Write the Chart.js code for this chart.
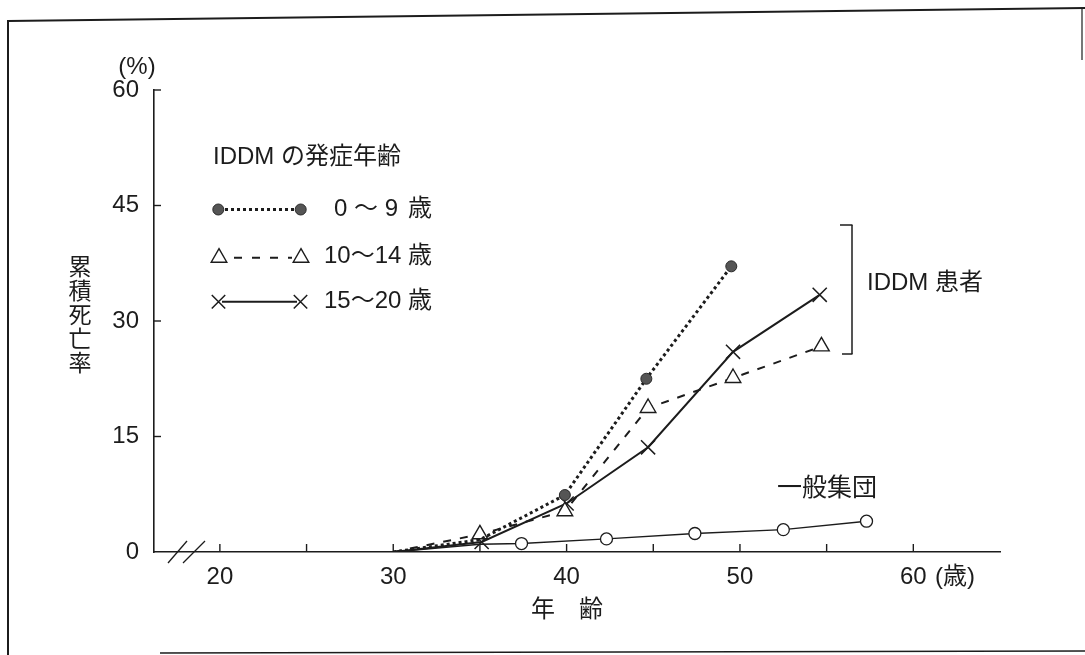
<!DOCTYPE html>
<html>
<head>
<meta charset="utf-8">
<script src="https://cdn.jsdelivr.net/npm/chart.js@4.4.1/dist/chart.umd.min.js"></script>
<style>
html,body{margin:0;padding:0;background:#fff;}
canvas{display:block;}
</style>
</head>
<body>
<canvas id="c" width="1085" height="655"></canvas>
<script>
// ---- data ----
const ages_0_9 = [30, 35, 39.9, 44.6, 49.5];
const rate_0_9 = [0, 1.6, 7.4, 22.5, 37.1];

const ages_10_14 = [30, 35, 39.9, 44.7, 49.6, 54.7];
const rate_10_14 = [0, 2.3, 5.3, 18.7, 22.6, 26.7];

const ages_15_20 = [30, 35.1, 40, 44.7, 49.6, 54.6];
const rate_15_20 = [0, 1.3, 6.3, 13.6, 26.0, 33.4];

const ages_general = [30, 35, 37.4, 42.3, 47.4, 52.5, 57.3];
const rate_general = [0, 1.0, 1.1, 1.7, 2.4, 2.9, 4.0];

const seriesNames = ['0 ～ 9', '10～14', '15～20'];
const ageUnit = '歳';
const legendTitle = 'IDDM の発症年齢';
const patientLabel = 'IDDM 患者';
const generalLabel = '一般集団';
const yTitleChars = ['累', '積', '死', '亡', '率'];
const yUnit = '(%)';
const xTitle = '年　齢';
const xUnit = '(歳)';

const xTickValues = [20, 25, 30, 35, 40, 45, 50, 55, 60];
const xTickLabels = ['20', '', '30', '', '40', '', '50', '', '60'];
const yTickValues = [0, 15, 30, 45, 60];
const yTickLabels = ['0', '15', '30', '45', '60'];

// ---- styling ----
const FAMILY = '"Liberation Sans","Noto Sans CJK JP",sans-serif';
const INK = '#1c1c1c';

function pts(xs, ys) { return xs.map((x, i) => ({ x: x, y: ys[i] })); }

function drawMarker(ctx, style, x, y, r, fill, stroke, lw) {
  ctx.save();
  ctx.lineWidth = lw;
  ctx.strokeStyle = stroke;
  ctx.fillStyle = fill;
  ctx.setLineDash([]);
  ctx.beginPath();
  if (style === 'circle') {
    ctx.arc(x, y, r, 0, Math.PI * 2);
    ctx.fill(); ctx.stroke();
  } else if (style === 'triangle') {
    ctx.moveTo(x, y - r);
    ctx.lineTo(x + r * Math.sin(Math.PI * 2 / 3), y + r * 0.5);
    ctx.lineTo(x - r * Math.sin(Math.PI * 2 / 3), y + r * 0.5);
    ctx.closePath();
    ctx.fill(); ctx.stroke();
  } else if (style === 'crossRot') {
    const d = r * Math.cos(Math.PI / 4);
    ctx.moveTo(x - d, y - d); ctx.lineTo(x + d, y + d);
    ctx.moveTo(x - d, y + d); ctx.lineTo(x + d, y - d);
    ctx.stroke();
  }
  ctx.restore();
}

const deco = {
  id: 'deco',
  beforeDraw(chart) {
    const c = chart.ctx;
    c.save(); c.fillStyle = '#fff'; c.fillRect(0, 0, chart.width, chart.height); c.restore();
  },
  afterDraw(chart) {
    const ctx = chart.ctx, xs = chart.scales.x, ys = chart.scales.y, a = chart.chartArea;
    ctx.save();
    ctx.strokeStyle = INK; ctx.fillStyle = INK;
    const line = (x1, y1, x2, y2) => { ctx.beginPath(); ctx.moveTo(x1, y1); ctx.lineTo(x2, y2); ctx.stroke(); };
    const text = (s, x, y, size, align) => {
      ctx.font = size + 'px ' + FAMILY;
      ctx.textAlign = align || 'left';
      ctx.textBaseline = 'middle';
      ctx.fillText(s, x, y);
    };

    // frame of the figure
    ctx.lineWidth = 2;
    line(8, 21, 1085, 8);
    line(8, 20, 8, 655);
    ctx.lineWidth = 1.2;
    line(1082, 8, 1082, 60);
    ctx.lineWidth = 1.5;
    line(160, 653, 1085, 651);

    // inward tick marks
    ctx.lineWidth = 1.4;
    xTickValues.forEach(v => { const px = xs.getPixelForValue(v); line(px, a.bottom, px, a.bottom - 8); });
    yTickValues.slice(1).forEach(v => { const py = ys.getPixelForValue(v); line(a.left, py, a.left + 7, py); });

    // axis break
    ctx.lineWidth = 1.3;
    line(168, 563, 187, 541);
    line(183, 563, 205, 541);

    // axis titles / units
    yTitleChars.forEach((ch, i) => text(ch, 80, 269 + i * 24, 23, 'center'));
    text(yUnit, 137, 67, 24, 'center');
    text(xUnit, 935, 577, 24, 'left');
    text(xTitle, 567, 610, 24, 'center');

    // legend
    text(legendTitle, 213, 157, 24, 'left');
    const rows = [209.5, 256.7, 301.7];
    // row 1 dotted + filled dots
    ctx.save(); ctx.lineWidth = 3; ctx.setLineDash([3, 3]); line(225, rows[0], 294, rows[0]); ctx.restore();
    drawMarker(ctx, 'circle', 218.3, rows[0], 5.5, '#555', '#2a2a2a', 1);
    drawMarker(ctx, 'circle', 300.7, rows[0], 5.5, '#555', '#2a2a2a', 1);
    // row 2 dashed + triangles
    ctx.save(); ctx.lineWidth = 2; ctx.setLineDash([8, 10]); line(234, rows[1] + 1, 292, rows[1] + 1); ctx.restore();
    drawMarker(ctx, 'triangle', 219, rows[1] + 1, 9, '#fff', INK, 1.4);
    drawMarker(ctx, 'triangle', 301, rows[1] + 1, 9, '#fff', INK, 1.4);
    // row 3 solid + crosses
    ctx.save(); ctx.lineWidth = 2; line(222, rows[2], 297, rows[2]); ctx.restore();
    drawMarker(ctx, 'crossRot', 218.5, rows[2], 9.5, '#fff', INK, 1.5);
    drawMarker(ctx, 'crossRot', 300.5, rows[2], 9.5, '#fff', INK, 1.5);
    text(seriesNames[0], 334, rows[0], 24, 'left');
    text(seriesNames[1], 324, rows[1], 24, 'left');
    text(seriesNames[2], 324, rows[2], 24, 'left');
    rows.forEach(r => text(ageUnit, 408, r, 24, 'left'));

    // bracket for IDDM patients
    ctx.lineWidth = 1.5;
    line(840, 225, 852.5, 225);
    line(852, 225, 852, 354);
    line(842, 354, 852.5, 354);
    text(patientLabel, 867, 283, 24, 'left');

    // general population label
    text(generalLabel, 777, 489, 25, 'left');

    ctx.restore();
  }
};

new Chart(document.getElementById('c'), {
  type: 'line',
  data: {
    datasets: [
      {
        label: seriesNames[0] + ' ' + ageUnit,
        data: pts(ages_0_9, rate_0_9),
        borderColor: INK, borderWidth: 3, borderDash: [3, 3],
        pointStyle: 'circle',
        pointRadius: ages_0_9.map((v, i) => i < 2 ? 0 : 5.5),
        pointBackgroundColor: '#555', pointBorderColor: '#2a2a2a', pointBorderWidth: 1,
        tension: 0, fill: false
      },
      {
        label: seriesNames[1] + ' ' + ageUnit,
        data: pts(ages_10_14, rate_10_14),
        borderColor: INK, borderWidth: 2, borderDash: [8, 9],
        pointStyle: 'triangle',
        pointRadius: ages_10_14.map((v, i) => i < 1 ? 0 : 9),
        pointBackgroundColor: '#fff', pointBorderColor: INK, pointBorderWidth: 1.4,
        tension: 0, fill: false
      },
      {
        label: seriesNames[2] + ' ' + ageUnit,
        data: pts(ages_15_20, rate_15_20),
        borderColor: INK, borderWidth: 2,
        pointStyle: 'crossRot',
        pointRadius: ages_15_20.map((v, i) => i < 1 ? 0 : 10),
        pointBackgroundColor: '#fff', pointBorderColor: INK, pointBorderWidth: 1.5,
        tension: 0, fill: false
      },
      {
        label: generalLabel,
        data: pts(ages_general, rate_general),
        borderColor: INK, borderWidth: 1.4,
        pointStyle: 'circle',
        pointRadius: ages_general.map((v, i) => i < 2 ? 0 : 6),
        pointBackgroundColor: '#fff', pointBorderColor: INK, pointBorderWidth: 1.3,
        tension: 0, fill: false
      }
    ]
  },
  options: {
    responsive: false,
    animation: false,
    devicePixelRatio: 1,
    events: [],
    layout: { padding: { left: 0, top: 90, right: 85, bottom: 0 } },
    plugins: { legend: { display: false }, tooltip: { enabled: false }, title: { display: false } },
    scales: {
      x: {
        type: 'linear', min: 16.2, max: 65,
        afterFit(s) { s.height = 103; },
        afterBuildTicks(s) { s.ticks = xTickValues.map(v => ({ value: v })); },
        grid: { display: false, drawTicks: false },
        border: { display: true, color: INK, width: 1.6 },
        ticks: {
          padding: 11, color: INK, autoSkip: false, maxRotation: 0,
          font: { family: FAMILY, size: 24 },
          callback: (v, i) => xTickLabels[i]
        }
      },
      y: {
        min: 0, max: 60,
        afterFit(s) { s.width = 154; },
        afterBuildTicks(s) { s.ticks = yTickValues.map(v => ({ value: v })); },
        grid: { display: false, drawTicks: false },
        border: { display: true, color: INK, width: 1.6 },
        ticks: {
          padding: 15, color: INK,
          font: { family: FAMILY, size: 24 },
          callback: (v, i) => yTickLabels[i]
        }
      }
    }
  },
  plugins: [deco]
});
</script>
</body>
</html>
